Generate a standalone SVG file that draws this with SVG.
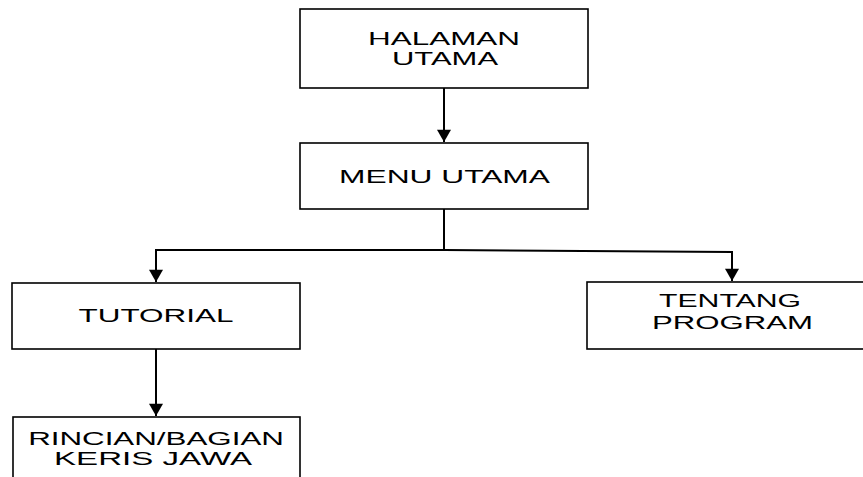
<svg xmlns="http://www.w3.org/2000/svg" width="863" height="477" viewBox="0 0 863 477">
<style>
.box{fill:#fff;stroke:#000;stroke-width:1.6}
.lbl{font-family:"Liberation Sans",Arial,sans-serif;font-size:18.5px;fill:#000;text-anchor:middle}
.conn{fill:none;stroke:#000;stroke-width:2}
</style>
<defs>
<marker id="arr" markerUnits="userSpaceOnUse" markerWidth="16" markerHeight="14" refX="14" refY="8" orient="auto" viewBox="0 0 14 16">
<path d="M0,0 L14,8 L0,16 Z" fill="#000"/>
</marker>
</defs>
<rect width="863" height="477" fill="#fff"/>
<g id="connectors">
<path class="conn" d="M444,88 V142" marker-end="url(#arr)"/>
<path class="conn" d="M444,209 V250 H156 V282" marker-end="url(#arr)"/>
<path class="conn" d="M444,250 L732,252 V281" marker-end="url(#arr)"/>
<path class="conn" d="M156,349 V416" marker-end="url(#arr)"/>
</g>
<g id="halaman-utama">
<rect class="box" x="300" y="9" width="288" height="79"/>
<text class="lbl" transform="translate(444,45) scale(1.55,1)" textLength="98" lengthAdjust="spacingAndGlyphs">HALAMAN</text>
<text class="lbl" transform="translate(445,65) scale(1.55,1)" textLength="68.4" lengthAdjust="spacingAndGlyphs">UTAMA</text>
</g>
<g id="menu-utama">
<rect class="box" x="300" y="143" width="288" height="66"/>
<text class="lbl" transform="translate(444.5,183) scale(1.55,1)" textLength="136" lengthAdjust="spacingAndGlyphs">MENU UTAMA</text>
</g>
<g id="tutorial">
<rect class="box" x="12" y="283" width="288" height="66"/>
<text class="lbl" transform="translate(156,322) scale(1.55,1)" textLength="100" lengthAdjust="spacingAndGlyphs">TUTORIAL</text>
</g>
<g id="tentang-program">
<rect class="box" x="587" y="282" width="290" height="67"/>
<text class="lbl" transform="translate(730,307) scale(1.55,1)" textLength="91.6" lengthAdjust="spacingAndGlyphs">TENTANG</text>
<text class="lbl" transform="translate(732.5,329) scale(1.55,1)" textLength="103.9" lengthAdjust="spacingAndGlyphs">PROGRAM</text>
</g>
<g id="rincian">
<rect class="box" x="13" y="417" width="287" height="80"/>
<text class="lbl" transform="translate(156,445) scale(1.55,1)" textLength="165" lengthAdjust="spacingAndGlyphs">RINCIAN/BAGIAN</text>
<text class="lbl" transform="translate(153,465) scale(1.55,1)" textLength="127.7" lengthAdjust="spacingAndGlyphs">KERIS JAWA</text>
</g>
</svg>
